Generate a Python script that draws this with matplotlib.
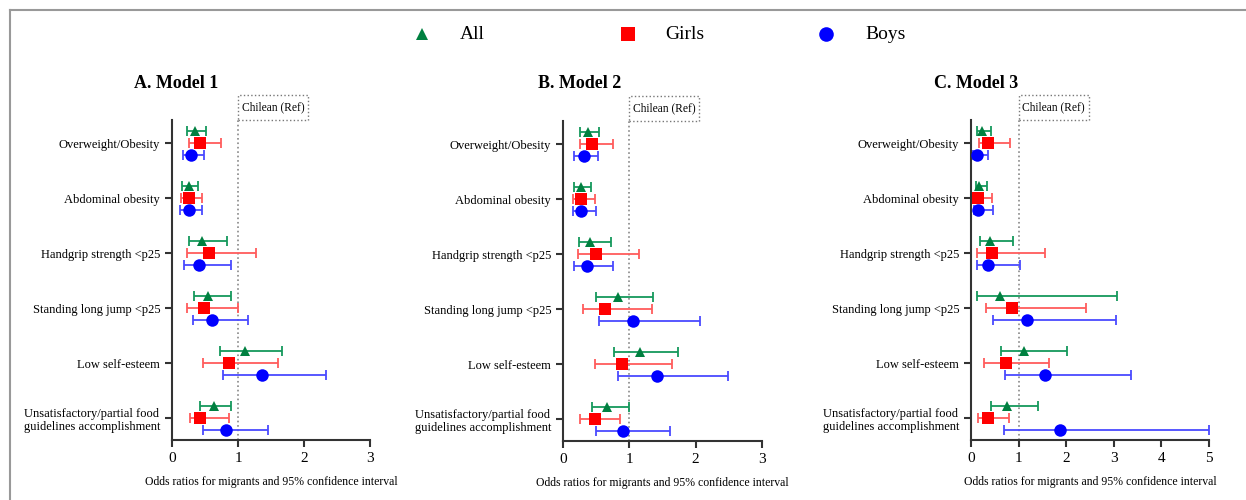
import matplotlib
matplotlib.use("Agg")
import matplotlib.pyplot as plt
import matplotlib.lines as mlines
import matplotlib.patches as mpatches
import numpy as np

plt.rcParams['font.family'] = ['Liberation Serif', 'DejaVu Serif']

categories = ["Overweight/Obesity", "Abdominal obesity", "Handgrip strength <p25",
              "Standing long jump <p25", "Low self-esteem",
              "Unsatisfactory/partial food\nguidelines accomplishment"]
groups = ["All", "Girls", "Boys"]

# Model 1
m1_all_or = [0.35, 0.25, 0.46, 0.54, 1.10, 0.64]
m1_all_lo = [0.23, 0.15, 0.26, 0.34, 0.73, 0.42]
m1_all_hi = [0.52, 0.40, 0.83, 0.89, 1.66, 0.90]
m1_girls_or = [0.42, 0.25, 0.56, 0.48, 0.86, 0.42]
m1_girls_lo = [0.25, 0.14, 0.23, 0.22, 0.47, 0.27]
m1_girls_hi = [0.74, 0.46, 1.28, 1.00, 1.60, 0.87]
m1_boys_or = [0.29, 0.25, 0.41, 0.61, 1.36, 0.82]
m1_boys_lo = [0.16, 0.12, 0.18, 0.32, 0.78, 0.47]
m1_boys_hi = [0.49, 0.46, 0.89, 1.15, 2.33, 1.45]

# Model 2
m2_all_or = [0.37, 0.27, 0.41, 0.83, 1.16, 0.66]
m2_all_lo = [0.26, 0.17, 0.24, 0.50, 0.77, 0.44]
m2_all_hi = [0.54, 0.42, 0.73, 1.36, 1.74, 1.00]
m2_girls_or = [0.44, 0.27, 0.50, 0.64, 0.89, 0.48]
m2_girls_lo = [0.26, 0.15, 0.22, 0.30, 0.48, 0.26]
m2_girls_hi = [0.75, 0.48, 1.15, 1.34, 1.64, 0.86]
m2_boys_or = [0.31, 0.27, 0.36, 1.05, 1.42, 0.90]
m2_boys_lo = [0.17, 0.15, 0.16, 0.54, 0.83, 0.49]
m2_boys_hi = [0.53, 0.50, 0.76, 2.06, 2.49, 1.61]

# Model 3
m3_all_or = [0.23, 0.16, 0.39, 0.60, 1.12, 0.76]
m3_all_lo = [0.13, 0.11, 0.18, 0.12, 0.62, 0.42]
m3_all_hi = [0.41, 0.33, 0.88, 3.07, 2.01, 1.40]
m3_girls_or = [0.36, 0.15, 0.45, 0.86, 0.73, 0.35]
m3_girls_lo = [0.17, 0.06, 0.12, 0.31, 0.28, 0.15]
m3_girls_hi = [0.81, 0.45, 1.56, 2.41, 1.63, 0.79]
m3_boys_or = [0.12, 0.15, 0.35, 1.18, 1.56, 1.86]
m3_boys_lo = [0.05, 0.06, 0.12, 0.46, 0.72, 0.69]
m3_boys_hi = [0.36, 0.46, 1.02, 3.05, 3.36, 4.99]

models = [
    ("A. Model 1", [(m1_all_or, m1_all_lo, m1_all_hi), (m1_girls_or, m1_girls_lo, m1_girls_hi), (m1_boys_or, m1_boys_lo, m1_boys_hi)], [0, 1, 2, 3]),
    ("B. Model 2", [(m2_all_or, m2_all_lo, m2_all_hi), (m2_girls_or, m2_girls_lo, m2_girls_hi), (m2_boys_or, m2_boys_lo, m2_boys_hi)], [0, 1, 2, 3]),
    ("C. Model 3", [(m3_all_or, m3_all_lo, m3_all_hi), (m3_girls_or, m3_girls_lo, m3_girls_hi), (m3_boys_or, m3_boys_lo, m3_boys_hi)], [0, 1, 2, 3, 4, 5]),
]

marker_colors = ["#008040", "#FF0000", "#0000FF"]
line_colors = ["#15985C", "#FF5C5C", "#4A4AFF"]
markers = ["^", "s", "o"]
msizes = [7.5, 8.5, 9]
offsets = [-0.22, 0.0, 0.22]

W, H = 1246, 500
fig = plt.figure(figsize=(W / 100, H / 100), dpi=100)

# axes placements in pixels: left, right, top, bottom
boxes = [(172, 370, 120, 440), (563, 762, 121, 441), (971, 1209, 120, 440)]
title_x = [176, 580, 976]
spine_col = "#333333"

for (title, series, xt), (l, r, t, b), tx in zip(models, boxes, title_x):
    ax = fig.add_axes([l / W, 1 - b / H, (r - l) / W, (b - t) / H])
    ypos = np.arange(len(categories))
    for gi, (orv, lo, hi) in enumerate(series):
        orv = np.array(orv); lo = np.array(lo); hi = np.array(hi)
        y = ypos + offsets[gi]
        ax.errorbar(orv, y, xerr=[orv - lo, hi - orv], fmt='none',
                    ecolor=line_colors[gi], elinewidth=1.3, capsize=3.5, capthick=1.3, zorder=2)
        ax.plot(orv, y, linestyle='none', marker=markers[gi], color=marker_colors[gi],
                markersize=msizes[gi], markeredgewidth=0, zorder=3)
    ax.set_ylim(5.4, -0.42)
    ax.set_xlim(0, xt[-1])
    ax.set_xticks(xt)
    ax.set_xticklabels([str(v) for v in xt])
    ax.set_yticks(ypos)
    ax.set_yticklabels(categories, fontsize=9, multialignment='center')
    for s in ["top", "right"]:
        ax.spines[s].set_visible(False)
    for s in ["left", "bottom"]:
        ax.spines[s].set_color(spine_col)
        ax.spines[s].set_linewidth(1.5)
    ax.tick_params(axis='both', colors=spine_col, width=1.5, length=5, labelcolor='black')
    ax.tick_params(axis='x', labelsize=11)
    ax.axvline(1, color="#888888", linestyle=':', linewidth=1.2, zorder=1)
    ax.set_xlabel("Odds ratios for migrants and 95% confidence interval", fontsize=8.5, labelpad=8)
    fig.text(tx / W, 1 - 83 / H, title, ha='center', va='center', fontsize=13, fontweight='bold')

    # reference box sitting on top of the axes at x = 1
    x1 = l + (r - l) / xt[-1]
    bw, bh = 70, 25
    rect = mpatches.Rectangle((x1 / W, 1 - t / H), bw / W, bh / H, transform=fig.transFigure,
                              facecolor='white', edgecolor='#777777', linestyle=':', linewidth=1.0)
    fig.patches.append(rect)
    fig.text((x1 + bw / 2) / W, 1 - (t - bh / 2) / H, "Chilean (Ref)", ha='center', va='center',
             fontsize=8.3)

# legend
leg_items = [(422, 460, "All"), (628, 665, "Girls"), (826, 865, "Boys")]
for gi, (mx, txx, lab) in enumerate(leg_items):
    fig.lines.append(mlines.Line2D([mx / W], [1 - 34 / H], transform=fig.transFigure,
                                   marker=markers[gi], color=marker_colors[gi], linestyle='none',
                                   markersize=msizes[gi] + 1.5, markeredgewidth=0))
    fig.text(txx / W, 1 - 34 / H, lab, ha='left', va='center', fontsize=14)

# frame lines (top and left)
fig.lines.append(mlines.Line2D([10 / W, 1.0], [1 - 10 / H, 1 - 10 / H], transform=fig.transFigure,
                               color='#999999', linewidth=1.5))
fig.lines.append(mlines.Line2D([10 / W, 10 / W], [1 - 10 / H, 0.0], transform=fig.transFigure,
                               color='#999999', linewidth=1.5))

fig.savefig("out.png", dpi=100)
